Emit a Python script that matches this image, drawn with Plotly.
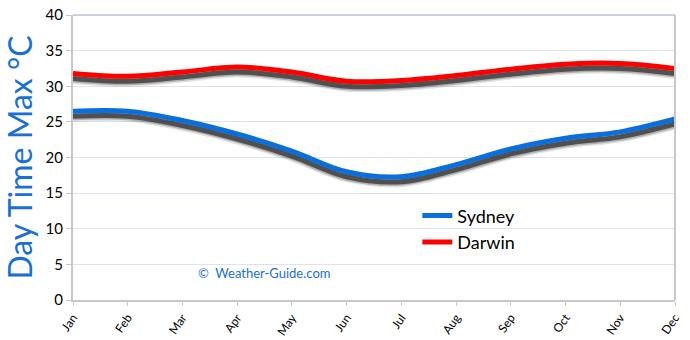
import plotly.graph_objects as go

months = ["Jan", "Feb", "Mar", "Apr", "May", "Jun", "Jul", "Aug", "Sep", "Oct", "Nov", "Dec"]
sydney = [26.5, 26.5, 25.2, 23.3, 20.9, 18.0, 17.3, 19.0, 21.2, 22.7, 23.6, 25.4]
darwin = [31.8, 31.4, 32.0, 32.7, 32.0, 30.7, 30.8, 31.5, 32.4, 33.1, 33.2, 32.5]
y_ticks = [0, 5, 10, 15, 20, 25, 30, 35, 40]

FONT = "Comic Sans MS, Lato, DejaVu Sans, sans-serif"
shadow_offset = 0.7

fig = go.Figure()

# soft drop shadows
for vals in (sydney, darwin):
    sh = [v - shadow_offset for v in vals]
    for w, op in ((11, 0.12), (8, 0.25), (5, 0.65)):
        fig.add_trace(go.Scatter(x=months, y=sh, mode="lines",
                                 line=dict(color="rgb(30,30,30)", width=w, shape="spline", smoothing=1.0),
                                 opacity=op, showlegend=False, hoverinfo="skip"))

fig.add_trace(go.Scatter(x=months, y=sydney, mode="lines", name="Sydney",
                         line=dict(color="#0a6fdc", width=5, shape="spline", smoothing=1.0)))
fig.add_trace(go.Scatter(x=months, y=darwin, mode="lines", name="Darwin",
                         line=dict(color="#ff0000", width=5, shape="spline", smoothing=1.0)))

fig.add_annotation(text="©  Weather-Guide.com", xref="paper", yref="paper",
                   x=0.318, y=0.095, xanchor="center", yanchor="middle", showarrow=False,
                   font=dict(family=FONT, size=13, color="#1a6fd6"))

fig.update_layout(
    width=690, height=340,
    margin=dict(l=73, r=15, t=15, b=40, autoexpand=False),
    paper_bgcolor="white", plot_bgcolor="white",
    font=dict(family=FONT, color="black"),
    legend=dict(x=0.572, y=0.36, xanchor="left", yanchor="top",
                bgcolor="rgba(0,0,0,0)", font=dict(size=18, family=FONT),
                itemwidth=30, tracegroupgap=2),
    xaxis=dict(range=[0, 11], tickvals=list(range(12)), ticktext=months,
               tickangle=-55, tickfont=dict(size=12), ticks="outside", ticklen=4,
               tickcolor="#c8c8c8", showline=True, linecolor="#c8c8c8", linewidth=2,
               mirror=False, showgrid=False, zeroline=False, automargin=False),
    yaxis=dict(range=[0, 40], tickvals=y_ticks, ticks="outside", ticklen=5,
               tickcolor="#c8c8c8", showline=True, linecolor="#c8c8c8", linewidth=2,
               gridcolor="#dde3f0", gridwidth=1, zeroline=False, automargin=False,
               tickfont=dict(size=15),
               title=dict(text="Day Time Max °C", font=dict(size=32, color="#1a6fd6", family=FONT),
                          standoff=10)),
)
fig.add_shape(type="line", xref="paper", yref="paper", x0=1, x1=1, y0=0, y1=1,
              line=dict(color="#c8c8c8", width=2))
fig.add_shape(type="line", xref="paper", yref="paper", x0=0, x1=1, y0=1, y1=1,
              line=dict(color="#b8c0d8", width=1.5))

fig.write_html("out.html")
